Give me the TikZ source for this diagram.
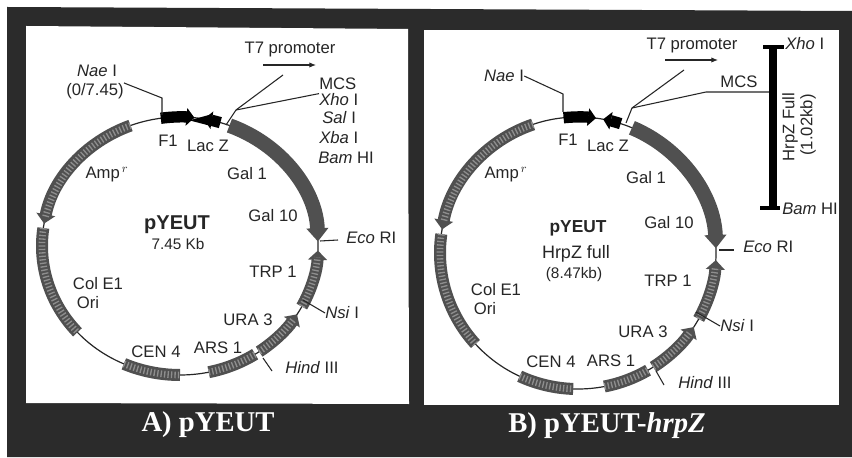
\documentclass[tikz,border=0pt]{standalone}
\usepackage{fontspec}
\setmainfont{Liberation Sans}
\newfontfamily\capfont{Liberation Serif}
\usetikzlibrary{arrows.meta, positioning}
\definecolor{panelgray}{HTML}{2B2B2B}
\definecolor{inkgray}{HTML}{262626}
\definecolor{genegray}{HTML}{505050}
\definecolor{galgray}{HTML}{505050}
\definecolor{mottle}{HTML}{8E8E8E}
\begin{document}
\begin{tikzpicture}[x=0.75pt, y=0.75pt,
    lbl/.style={inner sep=0pt, text=inkgray, font=\fontsize{12.5}{14}\selectfont},
    small/.style={lbl, font=\fontsize{11.5}{13}\selectfont},
    title/.style={lbl, font=\fontsize{#1}{16}\selectfont\bfseries},
    caption/.style={inner sep=0pt, text=white, font=\capfont\fontsize{21.5}{24}\selectfont\bfseries},
    ring/.style={draw=inkgray, line width=0.9pt},
    lead/.style={draw=inkgray, line width=0.8pt},
    headtip/.style={-{Triangle[length=7pt, width=14pt]}},
    gene/.style={draw=genegray, line width=9pt},
    speck/.style={draw=mottle, line width=5pt, dash pattern=on 1pt off 1.6pt},
    gal/.style={draw=galgray, line width=11pt, -{Triangle[length=10pt, width=16pt]}},
    blackgene/.style={draw=black, line width=8.5pt, -{Triangle[length=6pt, width=13pt]}},
    insertbar/.style={draw=black, line width=6pt},
    insertcap/.style={draw=black, line width=2.4pt}]
\useasboundingbox (0,0) rectangle (852,457);
\fill[panelgray] (7,450) -- (852,446) -- (852,0) -- (7,0) -- cycle;
\fill[white] (26,431) -- (408,428) -- (409,53) -- (26,54) -- cycle;
\fill[white] (424,427) -- (839,427) -- (839,52) -- (424,52) -- cycle;

% panel A
\coordinate (cA) at (180,211);
\draw[ring] (cA) ellipse [x radius=138, y radius=129];
\foreach \ts/\te in {111/170, 332/358, 305/328}{
    \draw[gene, headtip] (cA) ++(\ts:138 and 129) arc[start angle=\ts, end angle=\te, x radius=138, y radius=129];
    \draw[speck] (cA) ++(\ts:138 and 129) arc[start angle=\ts, end angle=\te-3, x radius=138, y radius=129];
}
\foreach \ts/\te in {172/222, 246/270, 282/303}{
    \draw[gene] (cA) ++(\ts:138 and 129) arc[start angle=\ts, end angle=\te, x radius=138, y radius=129];
    \draw[speck] (cA) ++(\ts:138 and 129) arc[start angle=\ts, end angle=\te, x radius=138, y radius=129];
}
\draw[gal] (cA) ++(69:138 and 129) arc[start angle=69, end angle=2, x radius=138, y radius=129];
\draw[blackgene] (cA) ++(98:138 and 129) arc[start angle=98, end angle=84, x radius=138, y radius=129];
\draw[blackgene] (cA) ++(73:138 and 129) arc[start angle=73, end angle=80, x radius=138, y radius=129];

\node[lbl] (t7A) at (290,407) {T7 promoter};
\node[lbl] (naeA) at (97,386) {\textit{Nae} I};
\node[lbl] (posA) at (95,366) {(0/7.45)};
\node[lbl, anchor=west] (mcsA) at (319,373) {MCS};
\node[lbl, anchor=west] (xhoA) at (319,357) {\textit{Xho} I};
\node[lbl, anchor=west] (salA) at (322,339) {\textit{Sal} I};
\node[lbl, anchor=west] (xbaA) at (319,319) {\textit{Xba} I};
\node[lbl, anchor=west] (bamA) at (318,299) {\textit{Bam} HI};
\node[lbl] (f1A) at (168,316) {F1};
\node[lbl] (lacA) at (208,311) {Lac Z};
\node[lbl] (gal1A) at (247,283) {Gal 1};
\node[lbl] (gal10A) at (273,241) {Gal 10};
\node[lbl] (ampA) at (107,283) {Amp$^{\,r}$};
\node[title=15] (nameA) at (177,232) {pYEUT};
\node[small] (sizeA) at (178,213) {7.45 Kb};
\node[lbl, anchor=west] (ecoA) at (346,219) {\textit{Eco} RI};
\node[lbl] (trpA) at (273,185) {TRP 1};
\node[lbl] (colA) at (98,173) {Col E1};
\node[lbl] (oriA) at (88,154) {Ori};
\node[lbl] (uraA) at (248,137) {URA 3};
\node[lbl, anchor=west] (nsiA) at (325,144) {\textit{Nsi} I};
\node[lbl] (cenA) at (156,105) {CEN 4};
\node[lbl] (arsA) at (218,109) {ARS 1};
\node[lbl, anchor=west] (hindA) at (285,89) {\textit{Hind} III};
\node[caption] (capA) at (208,32) {A) pYEUT};

\coordinate (naebendA) at (162,359);
\coordinate (naesiteA) at (162,342);
\coordinate (t7tailA) at (263,392);
\coordinate (t7tipA) at (316,392);
\coordinate (t7endA) at (283,382);
\coordinate (forkA) at (236,347);
\coordinate (mcssiteA) at (226,332);
\coordinate (ecositeA) at (320,216);
\coordinate (ecotickA) at (338,217);
\coordinate (nsisiteA) at (303,157);
\coordinate (hindsiteA) at (263,99);
\coordinate (hindtickA) at (272,86);
\draw[lead] (posA.north east) -- (naebendA) -- (naesiteA);
\draw[lead, -{Latex[length=5pt, width=4pt]}] (t7tailA) -- (t7tipA);
\draw[lead] (t7endA) -- (forkA) -- (mcssiteA);
\draw[lead] (xhoA.north west) -- (forkA);
\draw[lead] (ecositeA) -- (ecotickA);
\draw[lead] (nsisiteA) -- (nsiA.west);
\draw[lead] (hindsiteA) -- (hindtickA);

% panel B
\coordinate (cB) at (578,204);
\draw[ring] (cB) ellipse [x radius=138, y radius=136];
\foreach \ts/\te in {109/170, 331/357, 303/327}{
    \draw[gene, headtip] (cB) ++(\ts:138 and 136) arc[start angle=\ts, end angle=\te, x radius=138, y radius=136];
    \draw[speck] (cB) ++(\ts:138 and 136) arc[start angle=\ts, end angle=\te-3, x radius=138, y radius=136];
}
\foreach \ts/\te in {172/222, 245/268, 281/300.5}{
    \draw[gene] (cB) ++(\ts:138 and 136) arc[start angle=\ts, end angle=\te, x radius=138, y radius=136];
    \draw[speck] (cB) ++(\ts:138 and 136) arc[start angle=\ts, end angle=\te, x radius=138, y radius=136];
}
\draw[gal] (cB) ++(67:138 and 136) arc[start angle=67, end angle=2, x radius=138, y radius=136];
\draw[blackgene] (cB) ++(96:138 and 136) arc[start angle=96, end angle=82.5, x radius=138, y radius=136];
\draw[blackgene] (cB) ++(72:138 and 136) arc[start angle=72, end angle=79.5, x radius=138, y radius=136];

\node[lbl] (t7B) at (692,411) {T7 promoter};
\node[lbl] (mcsB) at (739,375) {MCS};
\node[lbl] (naeB) at (504,381) {\textit{Nae} I};
\node[lbl, anchor=west] (xhoB) at (785,413) {\textit{Xho} I};
\node[lbl, anchor=west] (bamB) at (782,248) {\textit{Bam} HI};
\node[lbl, rotate=90] (hrpB) at (790,330) {HrpZ Full};
\node[lbl, rotate=90] (kbB) at (808,332) {(1.02kb)};
\node[lbl] (f1B) at (568,317) {F1};
\node[lbl] (lacB) at (608,311) {Lac Z};
\node[lbl] (gal1B) at (646,279) {Gal 1};
\node[lbl] (gal10B) at (669,234) {Gal 10};
\node[lbl] (ampB) at (506,283) {Amp$^{\,r}$};
\node[title=13] (nameB) at (578,229) {pYEUT};
\node[lbl, font=\fontsize{13.5}{15}\selectfont] (subB) at (576,203) {HrpZ full};
\node[small] (sizeB) at (574,182) {(8.47kb)};
\node[lbl] (trpB) at (668,176) {TRP 1};
\node[lbl] (colB) at (496,167) {Col E1};
\node[lbl] (oriB) at (485,148) {Ori};
\node[lbl] (uraB) at (643,125) {URA 3};
\node[lbl] (cenB) at (551,95) {CEN 4};
\node[lbl] (arsB) at (611,96) {ARS 1};
\node[lbl, anchor=west] (ecoB) at (743,210) {\textit{Eco} RI};
\node[lbl, anchor=west] (nsiB) at (720,131) {\textit{Nsi} I};
\node[lbl, anchor=west] (hindB) at (678,74) {\textit{Hind} III};
\node[caption] (capB) at (607,31) {B) pYEUT-\textit{hrpZ}};

\coordinate (naebendB) at (563,363);
\coordinate (naesiteB) at (563,345);
\coordinate (t7tailB) at (665,397);
\coordinate (t7tipB) at (718,397);
\coordinate (t7endB) at (684,387);
\coordinate (forkB) at (632,349);
\coordinate (mcssiteB) at (626,334);
\coordinate (mcsbendB) at (706,365);
\coordinate (mcsbarB) at (770,365);
\coordinate (ecositeB) at (719,207);
\coordinate (ecotickB) at (734,207);
\coordinate (nsisiteB) at (696,145);
\coordinate (hindsiteB) at (656,86);
\coordinate (hindtickB) at (664,72);
\coordinate (xhobarB) at (773,410);
\coordinate (bambarB) at (773,249);
\coordinate (xholeftB) at (763,410);
\coordinate (xhorightB) at (784,410);
\coordinate (bamleftB) at (760,249);
\coordinate (bamrightB) at (780,249);
\draw[lead] (naeB.east) -- (naebendB) -- (naesiteB);
\draw[lead, -{Latex[length=5pt, width=4pt]}] (t7tailB) -- (t7tipB);
\draw[lead] (t7endB) -- (forkB) -- (mcssiteB);
\draw[lead] (mcsbarB) -- (mcsbendB) -- (forkB);
\draw[lead] (ecositeB) -- (ecotickB);
\draw[lead] (nsisiteB) -- (nsiB.west);
\draw[lead] (hindsiteB) -- (hindtickB);
\draw[insertbar] (xhobarB) -- (bambarB);
\draw[insertcap] (xholeftB) -- (xhorightB);
\draw[insertcap] (bamleftB) -- (bamrightB);
\end{tikzpicture}
\end{document}
